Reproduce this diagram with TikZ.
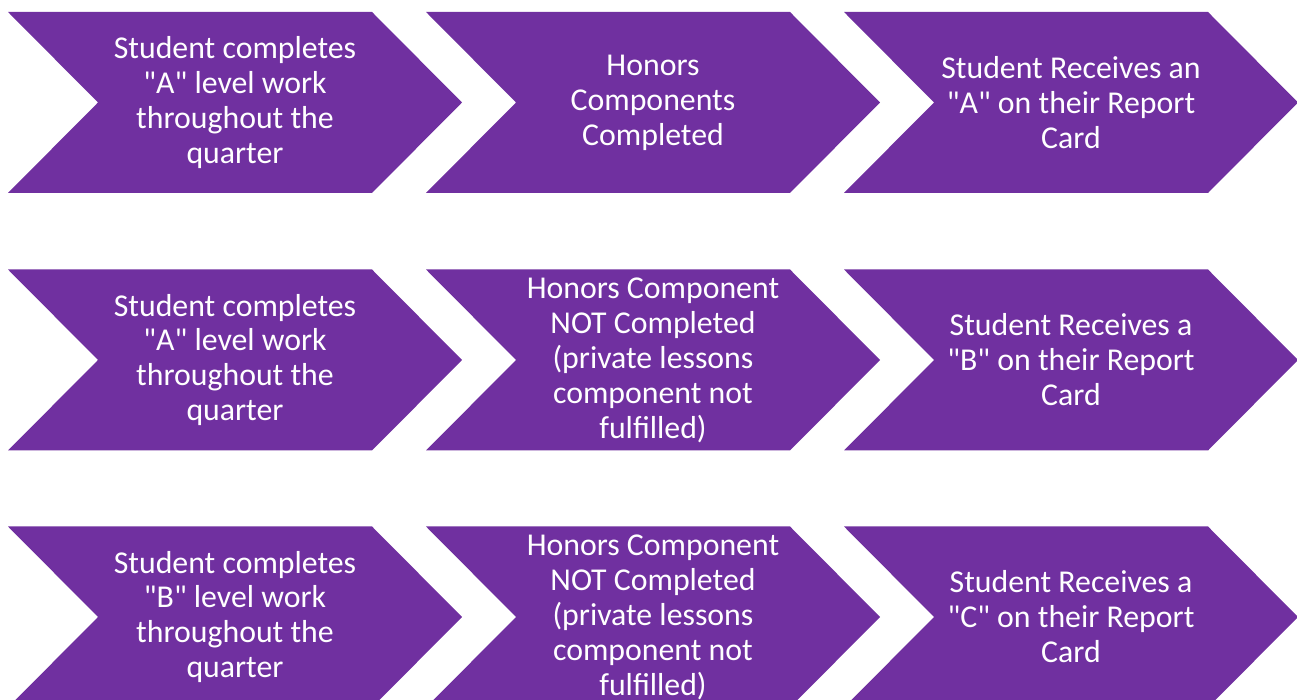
\documentclass[tikz,border=0pt]{standalone}
\usepackage{fontspec}
\setmainfont{Carlito}[Ligatures=TeXOff]
\usetikzlibrary{calc}
\definecolor{hpurple}{HTML}{7030A0}

\begin{document}
\begin{tikzpicture}[
        chev/.style = {fill = hpurple, draw = none},
        stagetext/.style = {text = white, align = center, inner sep = 0pt, font = \fontsize{18.1}{19.9}\selectfont}
    ]
        \useasboundingbox (0 cm, 0 cm) rectangle (25.94 cm, 14 cm);

        % left ends of the chevrons, at mid height
        \coordinate  (11) at (0.16 cm, 11.95 cm);
        \coordinate  (12) at (8.52 cm, 11.95 cm);
        \coordinate  (13) at (16.88 cm, 11.95 cm);
        \coordinate  (21) at (0.16 cm, 6.80 cm);
        \coordinate  (22) at (8.52 cm, 6.80 cm);
        \coordinate  (23) at (16.88 cm, 6.80 cm);
        \coordinate  (31) at (0.16 cm, 1.66 cm);
        \coordinate  (32) at (8.52 cm, 1.66 cm);
        \coordinate  (33) at (16.88 cm, 1.66 cm);

        \draw[chev] (11) ++ (0 cm, 1.81 cm) --++ (7.28 cm, 0 cm) --++ (1.8 cm, -1.81 cm) --++ (-1.8 cm, -1.81 cm) --++ (-7.28 cm, 0 cm) --++ (1.8 cm, 1.81 cm) -- cycle;
        \draw[chev] (12) ++ (0 cm, 1.81 cm) --++ (7.28 cm, 0 cm) --++ (1.8 cm, -1.81 cm) --++ (-1.8 cm, -1.81 cm) --++ (-7.28 cm, 0 cm) --++ (1.8 cm, 1.81 cm) -- cycle;
        \draw[chev] (13) ++ (0 cm, 1.81 cm) --++ (7.28 cm, 0 cm) --++ (1.8 cm, -1.81 cm) --++ (-1.8 cm, -1.81 cm) --++ (-7.28 cm, 0 cm) --++ (1.8 cm, 1.81 cm) -- cycle;
        \draw[chev] (21) ++ (0 cm, 1.81 cm) --++ (7.28 cm, 0 cm) --++ (1.8 cm, -1.81 cm) --++ (-1.8 cm, -1.81 cm) --++ (-7.28 cm, 0 cm) --++ (1.8 cm, 1.81 cm) -- cycle;
        \draw[chev] (22) ++ (0 cm, 1.81 cm) --++ (7.28 cm, 0 cm) --++ (1.8 cm, -1.81 cm) --++ (-1.8 cm, -1.81 cm) --++ (-7.28 cm, 0 cm) --++ (1.8 cm, 1.81 cm) -- cycle;
        \draw[chev] (23) ++ (0 cm, 1.81 cm) --++ (7.28 cm, 0 cm) --++ (1.8 cm, -1.81 cm) --++ (-1.8 cm, -1.81 cm) --++ (-7.28 cm, 0 cm) --++ (1.8 cm, 1.81 cm) -- cycle;
        \draw[chev] (31) ++ (0 cm, 1.81 cm) --++ (7.28 cm, 0 cm) --++ (1.8 cm, -1.81 cm) --++ (-1.8 cm, -1.81 cm) --++ (-7.28 cm, 0 cm) --++ (1.8 cm, 1.81 cm) -- cycle;
        \draw[chev] (32) ++ (0 cm, 1.81 cm) --++ (7.28 cm, 0 cm) --++ (1.8 cm, -1.81 cm) --++ (-1.8 cm, -1.81 cm) --++ (-7.28 cm, 0 cm) --++ (1.8 cm, 1.81 cm) -- cycle;
        \draw[chev] (33) ++ (0 cm, 1.81 cm) --++ (7.28 cm, 0 cm) --++ (1.8 cm, -1.81 cm) --++ (-1.8 cm, -1.81 cm) --++ (-7.28 cm, 0 cm) --++ (1.8 cm, 1.81 cm) -- cycle;

        % texts
        \node[stagetext] (work1) at ($(11) + (4.54 cm, 0 cm)$) {Student completes\\"A" level work\\throughout the\\quarter};
        \node[stagetext] (honors1) at ($(12) + (4.54 cm, 0 cm)$) {Honors\\Components\\Completed};
        \node[stagetext] (grade1) at ($(13) + (4.54 cm, 0 cm)$) {Student Receives an\\"A" on their Report\\Card};

        \node[stagetext] (work2) at ($(21) + (4.54 cm, 0 cm)$) {Student completes\\"A" level work\\throughout the\\quarter};
        \node[stagetext] (honors2) at ($(22) + (4.54 cm, 0 cm)$) {Honors Component\\NOT Completed\\(private lessons\\component not\\fulfilled)};
        \node[stagetext] (grade2) at ($(23) + (4.54 cm, 0 cm)$) {Student Receives a\\"B" on their Report\\Card};

        \node[stagetext] (work3) at ($(31) + (4.54 cm, 0 cm)$) {Student completes\\"B" level work\\throughout the\\quarter};
        \node[stagetext] (honors3) at ($(32) + (4.54 cm, 0 cm)$) {Honors Component\\NOT Completed\\(private lessons\\component not\\fulfilled)};
        \node[stagetext] (grade3) at ($(33) + (4.54 cm, 0 cm)$) {Student Receives a\\"C" on their Report\\Card};
    \end{tikzpicture}
\end{document}
